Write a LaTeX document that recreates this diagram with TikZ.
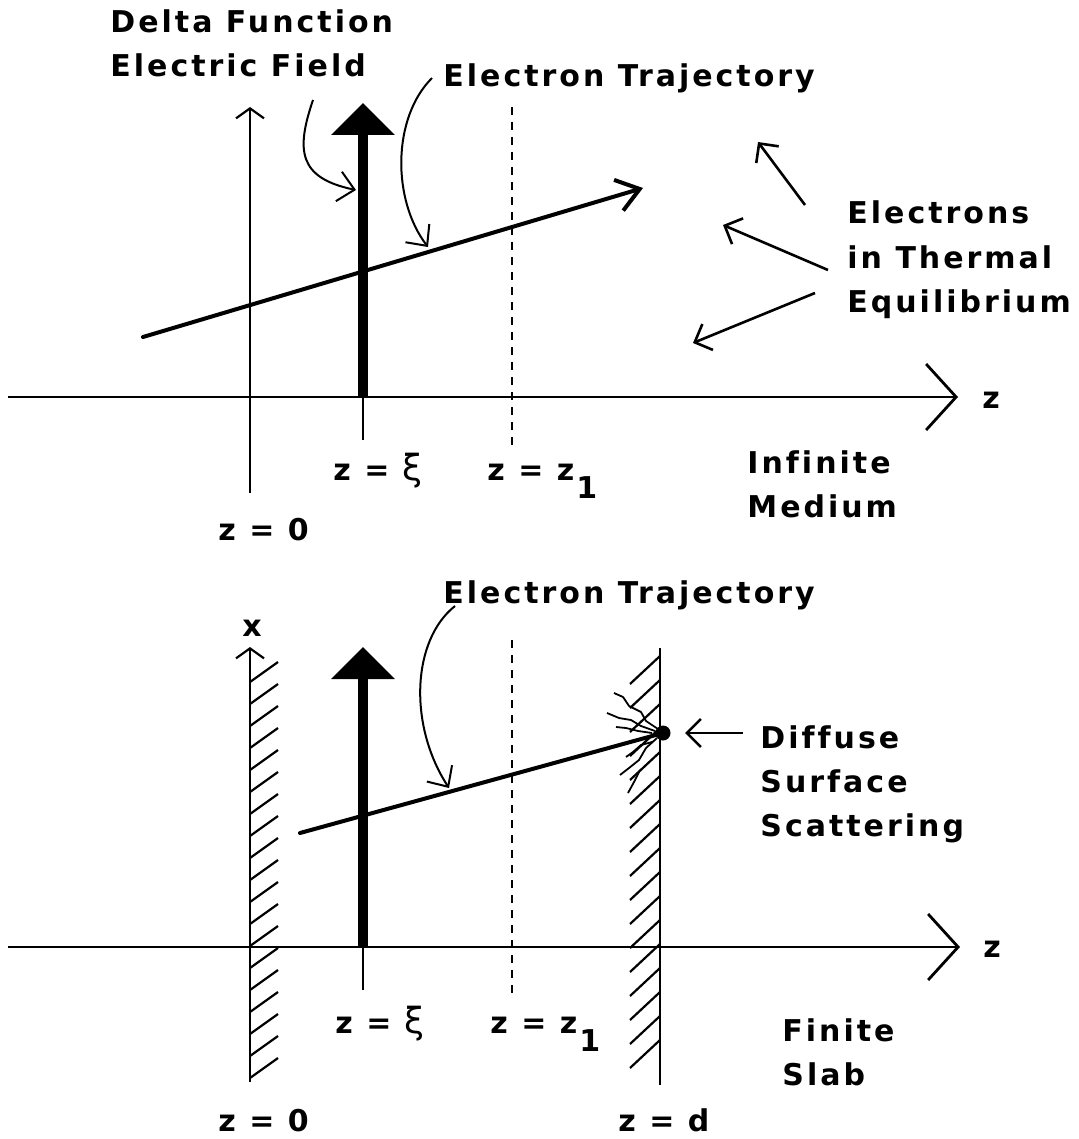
\documentclass[tikz,border=0pt]{standalone}
\usepackage{fontspec}
\setmainfont{DejaVu Sans}[LetterSpace=10, Ligatures={NoCommon}]
\newfontfamily\greekfont{DejaVu Sans}
\usetikzlibrary{arrows.meta}

\newcommand{\xisym}{{\greekfont\mdseries\fontsize{18}{22}\selectfont ξ}}
\newcommand{\zone}{z\kern1pt\raisebox{-9pt}{1}}

\begin{document}
\begin{tikzpicture}[
  x=0.5pt, y=-0.5pt,
  txt/.style={anchor=base west, inner sep=0pt, align=left, font=\bfseries\fontsize{15}{22}\selectfont},
  zaxis/.style={line width=1.4pt, -{Straight Barb[length=15pt,width=33pt]}},
  upaxis/.style={line width=1.1pt, -{Straight Barb[length=5pt,width=14pt]}},
  field/.style={line width=5pt, -{Triangle[length=16pt,width=31pt]}},
  tick/.style={line width=1.1pt},
  traj/.style={line width=2pt, line cap=round},
  trajarrow/.style={traj, -{Straight Barb[length=11pt,width=16pt]}},
  pointer/.style={line width=1pt, -{Straight Barb[length=8pt,width=15pt]}},
  thermal/.style={line width=1.3pt, -{Straight Barb[length=7pt,width=14pt]}},
  plane/.style={line width=1.1pt, dash pattern=on 4pt off 3.5pt},
  hatch/.style={line width=1.1pt},
  scribble/.style={line width=0.9pt, line join=round}
]
  \useasboundingbox (0,0) rectangle (1079,1139);

  % ---- infinite medium ----
  \coordinate (t-axL) at (8,397);
  \coordinate (t-axR) at (958,397);
  \coordinate (t-z0b) at (250,493);
  \coordinate (t-z0t) at (250,107);
  \coordinate (t-fb) at (363,397);
  \coordinate (t-ft) at (363,103);
  \coordinate (t-tk) at (363,440);
  \coordinate (t-dt) at (512,107);
  \coordinate (t-db) at (512,445);
  \coordinate (t-tr0) at (143,337);
  \coordinate (t-tr1) at (643,188);
  \coordinate (t-p1a) at (313,100);
  \coordinate (t-p1b) at (356,190);
  \coordinate (t-p2a) at (432,78);
  \coordinate (t-p2b) at (428,247);
  \coordinate (th1a) at (805,205);
  \coordinate (th1b) at (758,142);
  \coordinate (th2a) at (828,270);
  \coordinate (th2b) at (723,225);
  \coordinate (th3a) at (815,293);
  \coordinate (th3b) at (693,343);

  % multi-line texts sit on the baseline of their last line
  \node[txt] (delta) at (110,77) {Delta Function\\Electric Field};
  \node[txt] (t-traj) at (443,87) {Electron Trajectory};
  \node[txt] (thermo) at (847,312) {Electrons\\in Thermal\\Equilibrium};
  \node[txt] (t-z) at (982,408) {z};
  \node[txt] (infinite) at (747,517) {Infinite\\Medium};
  \node[txt] (t-xi) at (333,480) {z = \xisym};
  \node[txt] (t-z1) at (487,480) {z = \zone};
  \node[txt] (t-zero) at (218,540) {z = 0};

  \draw[zaxis] (t-axL) -- (t-axR);
  \draw[upaxis] (t-z0b) -- (t-z0t);
  \draw[tick] (t-fb) -- (t-tk);
  \draw[field] (t-fb) -- (t-ft);
  \draw[plane] (t-dt) -- (t-db);
  \draw[trajarrow] (t-tr0) -- (t-tr1);
  \draw[pointer] (t-p1a) .. controls (296,150) and (298,178) .. (t-p1b);
  \draw[pointer] (t-p2a) .. controls (392,118) and (392,200) .. (t-p2b);
  \draw[thermal] (th1a) -- (th1b);
  \draw[thermal] (th2a) -- (th2b);
  \draw[thermal] (th3a) -- (th3b);

  % ---- finite slab ----
  \coordinate (b-axL) at (8,947);
  \coordinate (b-axR) at (960,947);
  \coordinate (b-wl0) at (250,1082);
  \coordinate (b-wl1) at (250,647);
  \coordinate (b-wr0) at (660,1085);
  \coordinate (b-wr1) at (660,648);
  \coordinate (b-fb) at (363,947);
  \coordinate (b-ft) at (363,647);
  \coordinate (b-tk) at (363,990);
  \coordinate (b-dt) at (512,640);
  \coordinate (b-db) at (512,997);
  \coordinate (b-tr0) at (300,833);
  \coordinate (b-pa) at (455,606);
  \coordinate (b-pb) at (449,788);
  \coordinate (b-sa) at (743,733);
  \coordinate (b-sb) at (685,733);

  \node[txt] (b-traj) at (443,603) {Electron Trajectory};
  \node[txt, anchor=base] (b-x) at (252,636) {x};
  \node[txt] (diffuse) at (760,836) {Diffuse\\Surface\\Scattering};
  \node[txt] (b-z) at (983,957) {z};
  \node[txt] (slab) at (782,1085) {Finite\\Slab};
  \node[txt] (b-xi) at (335,1033) {z = \xisym};
  \node[txt] (b-z1) at (490,1033) {z = \zone};
  \node[txt] (b-zero) at (218,1131) {z = 0};
  \node[txt] (b-d) at (618,1131) {z = d};
  \node[circle, fill, inner sep=0pt, minimum size=7.5pt] (dot) at (663,733) {};

  % walls
  \foreach \yy in {682,704,...,1078}
    \draw[hatch] (250,\yy) -- +(28,-20);
  \foreach \yy in {684,708,...,1084}
    \draw[hatch] (630,\yy) -- +(30,-28);
  \draw[upaxis] (b-wl0) -- (b-wl1);
  \draw[tick] (b-wr0) -- (b-wr1);

  \draw[zaxis] (b-axL) -- (b-axR);
  \draw[tick] (b-fb) -- (b-tk);
  \draw[field] (b-fb) -- (b-ft);
  \draw[plane] (b-dt) -- (b-db);
  \draw[traj] (b-tr0) -- (dot.center);
  \draw[pointer] (b-pa) .. controls (412,640) and (408,725) .. (b-pb);
  \draw[thermal] (b-sa) -- (b-sb);

  % scattered rays at the wall
  \draw[scribble] (658,729) -- (646,721) -- (641,712) -- (629,706) -- (623,697) -- (614,693);
  \draw[scribble] (655,731) -- (641,726) -- (631,720) -- (619,718) -- (607,713);
  \draw[scribble] (652,733) -- (638,731) -- (626,728) -- (616,727);
  \draw[scribble] (657,738) -- (646,748) -- (639,760) -- (629,768) -- (620,775);
  \draw[scribble] (652,742) -- (641,745) -- (633,752) -- (626,757);
  \draw[scribble] (640,770) -- (634,782) -- (628,793);
\end{tikzpicture}
\end{document}
